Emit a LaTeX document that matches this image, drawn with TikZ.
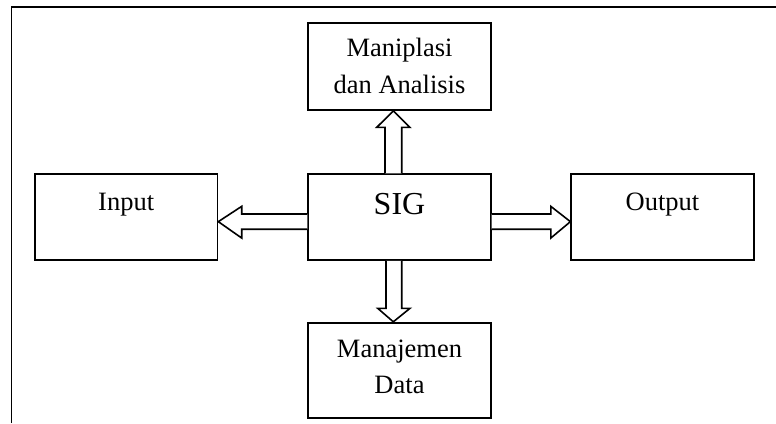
\documentclass[tikz,border=0pt]{standalone}
\usepackage{fontspec}
\setmainfont{Liberation Serif}
\usetikzlibrary{calc}

\begin{document}
\begin{tikzpicture}[x=1pt,y=-1pt,
  box/.style={draw=black,line width=1.8pt,rectangle,minimum width=182.4pt,inner sep=0pt},
  lbl/.style={anchor=base,inner sep=0pt,font=\fontsize{26.5}{32}\selectfont},
  biglbl/.style={anchor=base,inner sep=0pt,font=\fontsize{32}{38}\selectfont},
  blockarrow/.style={draw=black,line width=1.6pt,line join=miter,fill=white},
  frameline/.style={draw=black,line width=1.4pt}]

\useasboundingbox (0,0) rectangle (776,423);

% page frame (left and top edges)
\draw[frameline] (11.5,423) -- (11.5,7) -- (776,7);

% blocks
\node[box,minimum height=87.3pt] (mani) at (399.5,66.35) {};
\node[box,minimum height=85.7pt] (sig)  at (399.5,217.15) {};
\node[box,minimum height=85.7pt] (inp)  at (126.2,217.15) {};
\node[box,minimum height=85.7pt] (out)  at (662.5,217.15) {};
\node[box,minimum height=95.6pt] (data) at (399.5,370.5) {};

% labels
\node[lbl] (maniA) at (399.5,56.7) {Maniplasi};
\node[lbl] (maniB) at (399.5,93.3) {dan Analisis};
\node[biglbl] (sigT) at (399.5,214) {SIG};
\node[lbl] (inpT) at (126.2,210) {Input};
\node[lbl] (outT) at (662.5,210) {Output};
\node[lbl] (dataA) at (399.5,357.3) {Manajemen};
\node[lbl] (dataB) at (399.5,393.3) {Data};

% SIG -> Maniplasi dan Analisis
\draw[blockarrow] ($(sig.north)+(-14.5,0)$) -- ($(mani.south)+(-14.5,16.5)$)
  -- ($(mani.south)+(-22.8,16.5)$) -- ($(mani.south)+(-6.2,0)$)
  -- ($(mani.south)+(10.5,16.5)$) -- ($(mani.south)+(2.2,16.5)$)
  -- ($(sig.north)+(2.2,0)$);

% SIG -> Manajemen Data
\draw[blockarrow] ($(sig.south)+(-13.5,0)$) -- ($(data.north)+(-13.5,-13.5)$)
  -- ($(data.north)+(-21.8,-13.5)$) -- ($(data.north)+(-6.2,0)$)
  -- ($(data.north)+(10.5,-13.5)$) -- ($(data.north)+(2.2,-13.5)$)
  -- ($(sig.south)+(2.2,0)$);

% SIG -> Input
\draw[blockarrow] ($(sig.west)+(0,-3.2)$) -- ($(inp.east)+(23.4,-3.2)$)
  -- ($(inp.east)+(23.4,-10.8)$) -- ($(inp.east)+(0,4.5)$)
  -- ($(inp.east)+(23.4,20.9)$) -- ($(inp.east)+(23.4,12.1)$)
  -- ($(sig.west)+(0,12.1)$);

% SIG -> Output
\draw[blockarrow] ($(sig.east)+(0,-3.2)$) -- ($(out.west)+(-19.6,-3.2)$)
  -- ($(out.west)+(-19.6,-10.8)$) -- ($(out.west)+(0,4.5)$)
  -- ($(out.west)+(-19.6,20.9)$) -- ($(out.west)+(-19.6,12.1)$)
  -- ($(sig.east)+(0,12.1)$);

\end{tikzpicture}
\end{document}
